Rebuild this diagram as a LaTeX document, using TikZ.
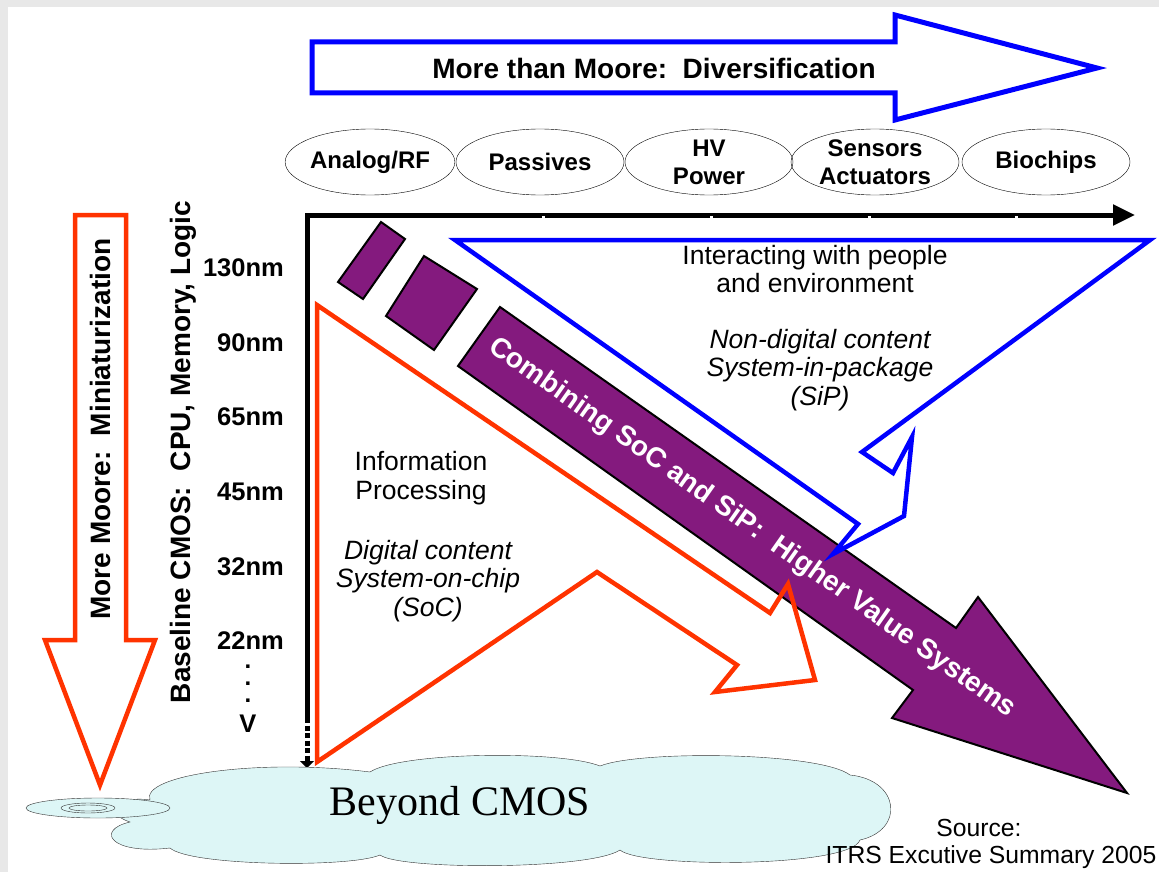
\documentclass[tikz,border=0pt]{standalone}
\usepackage{fontspec}
\setmainfont{Liberation Sans}
\newfontfamily\cloudfont{Liberation Serif}
\usetikzlibrary{arrows.meta,shapes.geometric}
\definecolor{moreblue}{HTML}{0000FF}
\definecolor{morered}{HTML}{FF3300}
\definecolor{plum}{HTML}{841A7E}
\definecolor{sky}{HTML}{DDF6F6}
\definecolor{slide}{HTML}{E8E8E8}

\begin{document}
\begin{tikzpicture}[x=1pt,y=-1pt,
every node/.style={font=\fontsize{24}{28}\selectfont\bfseries,align=center,inner sep=0pt},
title/.style={font=\fontsize{28}{32}\selectfont\bfseries},
bluearr/.style={draw=moreblue,line width=5pt},
redarr/.style={draw=morered,line width=4.5pt},
oval/.style={ellipse,draw,thin,minimum width=168pt,minimum height=66pt},
plain/.style={font=\fontsize{26.5}{28.5}\selectfont},
slanted/.style={font=\fontsize{26.5}{28.5}\selectfont\itshape},
block/.style={fill=plum,draw=black,line width=2pt},
axis/.style={line width=5pt,-{Triangle[length=22pt,width=20pt]}}]
\useasboundingbox (0,0) rectangle (1159,872);
\fill[slide] (0,0) rectangle (1159,872);
\fill[white] (8,7) rectangle (1159,872);
% top: diversification arrow and its topics
\draw[bluearr] (312,42) -- (895,42) -- (895,15) -- (1097,68) -- (895,120) -- (895,93) -- (312,93) -- cycle;
\node[title] (div) at (654,68) {More than Moore:\ \ Diversification};
\foreach \n/\x/\t in {ana/370/{Analog/RF},pas/540/Passives,hv/709/{HV\\Power},sen/875/{Sensors\\Actuators},bio/1046/Biochips}
  \node[oval] (\n) at (\x,162) {\t};
% left: miniaturization arrow and node list
\draw[redarr] (75,215) -- (126,215) -- (126,640) -- (155,640) -- (100,785) -- (45,640) -- (75,640) -- cycle;
\node[title,rotate=90] (mini) at (100,429) {More Moore:\ \ Miniaturization};
\node[title,rotate=90] (base) at (183,452) {Baseline CMOS:\ \ CPU, Memory, Logic};
\foreach \y/\t in {268/130nm,343/90nm,417/65nm,492/45nm,567/32nm,641/22nm}
  \node[anchor=east,font=\fontsize{25.5}{28}\selectfont\bfseries] (n\t) at (284,\y) {\t};
\node[font=\fontsize{24}{17}\selectfont\bfseries] (dots) at (248,684) {.\\.\\.};
\node[font=\fontsize{25.5}{28}\selectfont\bfseries] (vee) at (248,724) {V};
% axes
\coordinate (xe) at (1135,215);
\coordinate (ys) at (307,718);
\coordinate (ye) at (307,768);
\draw[axis] (ys) |- (xe);
\draw[line width=5pt,dash pattern=on 5pt off 2.5pt,-{Triangle[length=7pt,width=14pt]}] (ys) -- (ye);
\foreach \x in {543,711,869,1016}
  \fill[white] (\x-1.5,215.5) rectangle (\x+1.5,218);
% SoC + SiP arrow
\filldraw[block] (381,222) -- (405,239) -- (363,299) -- (338,282) -- cycle;
\filldraw[block] (424,256) -- (477,289) -- (434,350) -- (386,316) -- cycle;
\filldraw[block] (500,307) -- (956,628) -- (978,597) -- (1127,793) -- (892,718) -- (913,690) -- (458,366) -- cycle;
\node[title,rotate=-35.2,text=white] (hvs) at (752,528) {Combining SoC and SiP:\ \ Higher Value Systems};
% information processing / interacting arrows
\draw[redarr] (317,305) -- (317,762) -- (597,572) -- (737,665) -- (715,692) -- (815,680) -- (788,584) -- (770,613) -- cycle;
\draw[bluearr,line width=4.5pt] (455,240) -- (1150,240) -- (862,452) -- (893,473) -- (912,437) -- (904,516) -- (833,554) -- (858,524) -- cycle;
\node[plain] (people) at (815,269) {Interacting with people\\and environment};
\node[slanted] (sip) at (820,370) {Non-digital content\\System-in-package\\(SiP)};
\node[plain] (info) at (421,478) {Information\\Processing};
\node[slanted] (soc) at (428,581) {Digital content\\System-on-chip\\(SoC)};
% cloud
\filldraw[fill=sky,draw=black!80,thin] (150,800)
  .. controls (140,775) and (260,758) .. (370,772)
  .. controls (400,752) and (560,750) .. (600,766)
  .. controls (640,750) and (820,752) .. (850,775)
  .. controls (900,780) and (905,830) .. (860,840)
  .. controls (850,868) and (640,868) .. (620,850)
  .. controls (590,870) and (400,870) .. (380,855)
  .. controls (350,868) and (190,866) .. (170,848)
  .. controls (110,855) and (95,830) .. (130,822)
  .. controls (100,812) and (120,795) .. (150,800) -- cycle;
\filldraw[fill=sky,draw=black!80,thin] (98,808) ellipse (72 and 10);
\draw[black!80,thin] (88,808) ellipse (27 and 5) (88,808) ellipse (19 and 3);
\node[font=\cloudfont\fontsize{42}{42}\selectfont] (cmos) at (460,805) {Beyond CMOS};
\node[font=\fontsize{24.7}{28}\selectfont] (src) at (979,828) {Source:};
\node[font=\fontsize{24.7}{28}\selectfont] (itrs) at (991,857) {ITRS Excutive Summary 2005};
\end{tikzpicture}
\end{document}
